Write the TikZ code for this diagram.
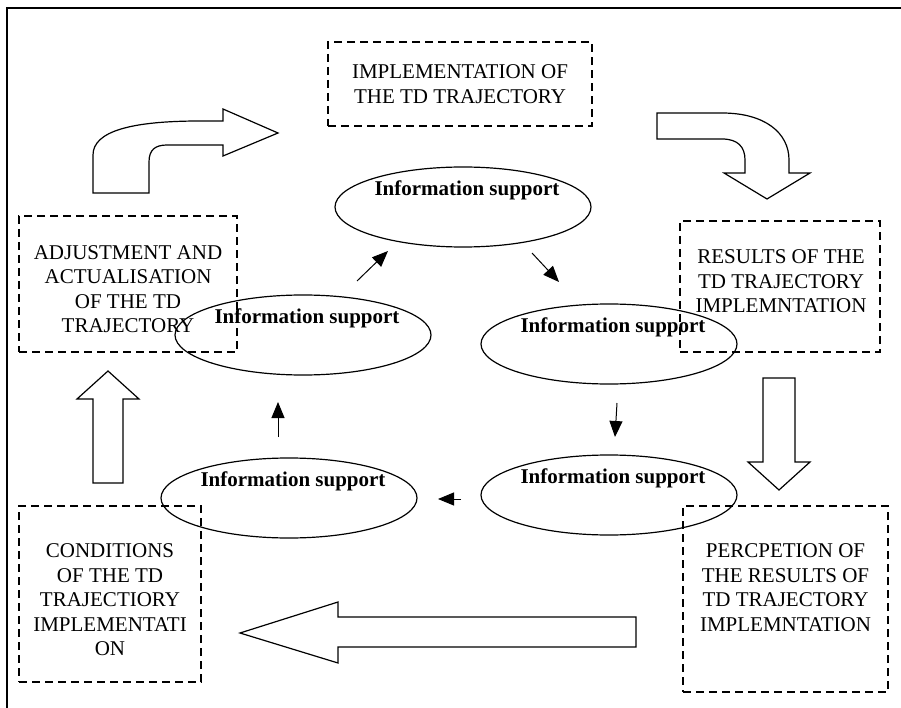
\documentclass[tikz,border=0pt]{standalone}
\usepackage{fontspec}
\setmainfont{Liberation Serif}
\usetikzlibrary{shapes.geometric}
\usetikzlibrary{arrows.meta}

\begin{document}
\begin{tikzpicture}[x=1pt, y=-1pt,
        tdbox/.style={draw, dash pattern=on 8pt off 5pt, line width=1.2pt, inner sep=0pt},
        boxtext/.style={align=center, font=\fontsize{21}{24.5}\selectfont},
        infoell/.style={draw, ellipse, line width=1.2pt, inner sep=0pt, minimum width=256pt, minimum height=80pt},
        infotext/.style={font=\fontsize{21}{24}\selectfont\bfseries, xshift=4pt, yshift=16.5pt},
        bigarrow/.style={draw, line width=1.2pt, line join=miter},
        smallarrow/.style={line width=1pt, -{Triangle[length=16pt,width=13pt]}}]
            \useasboundingbox (0,0) rectangle (901,708);
            \draw[line width=1.6pt] (7,708) -- (7,8) -- (901,8);

            % dashed boxes
            \node[tdbox, minimum width=264pt, minimum height=84pt,
                  label={[boxtext]center:IMPLEMENTATION OF\\THE TD TRAJECTORY}] (impl) at (460,84) {};
            \node[tdbox, minimum width=200pt, minimum height=131pt,
                  label={[boxtext, xshift=1pt, yshift=5pt]center:RESULTS OF THE\\TD TRAJECTORY\\IMPLEMNTATION}] (results) at (780,286.5) {};
            \node[tdbox, minimum width=205pt, minimum height=186pt,
                  label={[boxtext, yshift=11.5pt]center:PERCPETION OF\\THE RESULTS OF\\TD TRAJECTORY\\IMPLEMNTATION}] (percep) at (785.5,599) {};
            \node[tdbox, minimum width=182pt, minimum height=176pt,
                  label={[boxtext, yshift=-6pt]center:CONDITIONS\\OF THE TD\\TRAJECTIORY\\IMPLEMENTATI\\ON}] (cond) at (110,594) {};
            \node[tdbox, minimum width=218pt, minimum height=136pt,
                  label={[boxtext, yshift=-5pt]center:ADJUSTMENT AND\\ACTUALISATION\\OF THE TD\\TRAJECTORY}] (adjust) at (128,284) {};

            % information support ellipses
            \node[infoell, label={[infotext]center:Information support}] (info1) at (463,207) {};
            \node[infoell, label={[infotext]center:Information support}] (info2) at (609,344) {};
            \node[infoell, label={[infotext]center:Information support}] (info3) at (609,495) {};
            \node[infoell, label={[infotext]center:Information support}] (info4) at (289,498) {};
            \node[infoell, label={[infotext]center:Information support}] (info5) at (303,335) {};

            % small arrows between the ellipses
            \coordinate (a1) at (357,281);  \coordinate (b1) at (388,251);
            \coordinate (a2) at (532,253);  \coordinate (b2) at (559,282);
            \coordinate (a3) at (617,403);  \coordinate (b3) at (615,437);
            \coordinate (a4) at (461,499);  \coordinate (b4) at (438,499);
            \coordinate (a5) at (278,437);  \coordinate (b5) at (278,402);
            \draw[smallarrow] (a1) -- (b1);
            \draw[smallarrow] (a2) -- (b2);
            \draw[smallarrow] (a3) -- (b3);
            \draw[smallarrow] (a4) -- (b4);
            \draw[smallarrow] (a5) -- (b5);

            % block arrows
            \draw[bigarrow] (93,193) -- (93,155) .. controls (93,131) and (132,121) .. (200,121) -- (223,121) -- (223,109)
                -- (278,133) -- (223,156) -- (223,145) -- (167,145) .. controls (155,145) and (149,150) .. (149,162) -- (149,193) -- cycle;
            \draw[bigarrow] (657,113) -- (722,113) .. controls (765,113) and (789,133) .. (789,160) -- (789,173) -- (810,173)
                -- (767,199) -- (724,173) -- (745,173) -- (745,160) .. controls (745,147) and (738,139) .. (722,139) -- (657,139) -- cycle;
            \draw[bigarrow] (763,378) -- (795,378) -- (795,462) -- (810,462) -- (779,490) -- (748,462) -- (763,462) -- cycle;
            \draw[bigarrow] (636,617) -- (338,617) -- (338,602) -- (240,633) -- (338,663) -- (338,647) -- (636,647) -- cycle;
            \draw[bigarrow] (93,483) -- (93,399) -- (77,399) -- (108,371) -- (139,399) -- (123,399) -- (123,483) -- cycle;
        \end{tikzpicture}
\end{document}
